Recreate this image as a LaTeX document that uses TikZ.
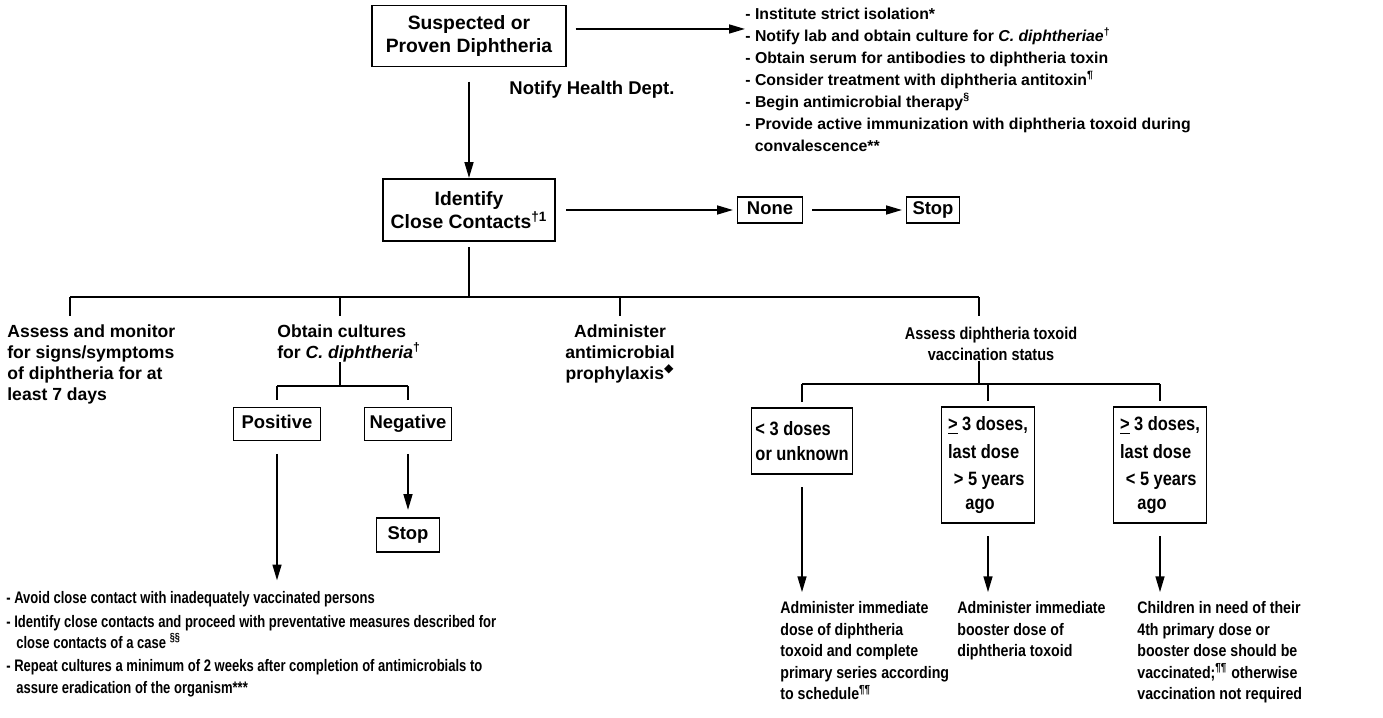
\documentclass[tikz,border=0pt]{standalone}
\usepackage{fontspec}
\setmainfont{Liberation Sans}
\newfontfamily\narrowfont[FakeStretch=0.85]{Liberation Sans}
\newfontfamily\narrowerfont[FakeStretch=0.78]{Liberation Sans}
\newfontfamily\symbolfont{DejaVu Sans}
\usetikzlibrary{arrows.meta,positioning,calc}

\begin{document}
\begin{tikzpicture}[
    x=0.02cm, y=-0.02cm,
    font=\bfseries,
    box/.style={rectangle, draw, line width=1.1pt, inner sep=2pt, align=center, fill=white},
    bigbox/.style={box, font=\bfseries\fontsize{11}{13.5}\selectfont},
    smallbox/.style={box, font=\bfseries\fontsize{10.5}{12}\selectfont, text height=8pt, text depth=2.4pt, minimum height=0.52cm},
    vbox/.style={box, anchor=north, align=left, font=\narrowfont\bfseries\fontsize{11}{15.5}\selectfont},
    txt/.style={inner sep=0pt, align=left, font=\bfseries\fontsize{10}{12}\selectfont},
    narrowtxt/.style={inner sep=0pt, align=left, anchor=north west, font=\narrowfont\bfseries\fontsize{9.5}{12.3}\selectfont},
    arrow/.style={-{Triangle[length=9pt,width=5pt]}, line width=1.1pt},
    line/.style={line width=1.1pt}
]
    \useasboundingbox (0,0) rectangle (1383,717);

    % --- 1. Case and contacts ---
    \node[bigbox, minimum width=3.88cm, minimum height=1.22cm] (susp) at (469,36) {Suspected or\\Proven Diphtheria};
    \node[txt, anchor=north west, font=\bfseries\fontsize{9}{12.5}\selectfont] (isol) at (745,8)
        {- Institute strict isolation*\\
         - Notify lab and obtain culture for \textit{C. diphtheriae}\textsuperscript{†}\\
         - Obtain serum for antibodies to diphtheria toxin\\
         - Consider treatment with diphtheria antitoxin\textsuperscript{¶}\\
         - Begin antimicrobial therapy\textsuperscript{§}\\
         - Provide active immunization with diphtheria toxoid during\\
         \hspace{0.6em}convalescence**};
    \node[font=\bfseries\fontsize{10.5}{12}\selectfont] (notify) at (592,90) {Notify Health Dept.};

    \node[bigbox, minimum width=3.44cm, minimum height=1.24cm] (ident) at (469,210) {Identify\\Close Contacts\textsuperscript{†1}};
    \node[smallbox, minimum width=1.3cm] (none) at (770,210) {None};
    \node[smallbox, minimum width=1.06cm] (stopA) at (933,210) {Stop};

    % --- 2. Contact branches ---
    \coordinate (busL) at (70,297);
    \coordinate (busR) at (979,297);
    \coordinate (dMon) at (70,316);
    \coordinate (dCul) at (340,316);
    \coordinate (dAdm) at (620,316);
    \coordinate (dVac) at (979,316);

    \node[txt, anchor=north west] (monitor) at (7,324) {Assess and monitor\\for signs/symptoms\\of diphtheria for at\\least 7 days};
    \node[txt, anchor=north west] (cultures) at (277,324) {Obtain cultures\\for \textit{C. diphtheria}\textsuperscript{†}};
    \node[txt, anchor=north, align=center] (admin) at (620,324) {Administer\\antimicrobial\\prophylaxis\textsuperscript{\symbolfont ◆}};
    \node[txt, anchor=north, align=center, font=\narrowfont\bfseries\fontsize{9.7}{12}\selectfont] (status) at (991,327) {Assess diphtheria toxoid\\vaccination status};

    % --- 3. Culture results ---
    \coordinate (cbus) at (340,386);
    \node[smallbox, minimum width=1.74cm, minimum height=0.66cm] (pos) at (277,424) {Positive};
    \node[smallbox, minimum width=1.74cm, minimum height=0.66cm] (neg) at (408,424) {Negative};
    \node[smallbox, minimum width=1.26cm, minimum height=0.68cm] (stopB) at (408,535) {Stop};
    \node[narrowtxt, font=\narrowerfont\bfseries\fontsize{9.5}{12}\selectfont] (avoid) at (6,591)
        {- Avoid close contact with inadequately vaccinated persons\\[1.5pt]
         - Identify close contacts and proceed with preventative measures described for\\
         \hspace{0.6em}close contacts of a case \textsuperscript{§§}\\[1.5pt]
         - Repeat cultures a minimum of 2 weeks after completion of antimicrobials to\\
         \hspace{0.6em}assure eradication of the organism***};

    % --- 4. Vaccination status ---
    \coordinate (vbus) at (979,384);
    \node[vbox, minimum width=2.02cm, minimum height=1.32cm, font=\narrowfont\bfseries\fontsize{11}{14.5}\selectfont] (v1) at (802,407) {< 3 doses\\or unknown};
    \node[vbox, minimum width=1.86cm, minimum height=2.32cm] (v2) at (988,406) {\underline{>} 3 doses,\\last dose\\\hspace{0.3em}> 5 years\\[-2pt]\hspace{0.9em}ago};
    \node[vbox, minimum width=1.86cm, minimum height=2.32cm] (v3) at (1160,406) {\underline{>} 3 doses,\\last dose\\\hspace{0.3em}< 5 years\\[-2pt]\hspace{0.9em}ago};

    \node[narrowtxt] (act1) at (780,601) {Administer immediate\\dose of diphtheria\\toxoid and complete\\primary series according\\to schedule\textsuperscript{¶¶}};
    \node[narrowtxt] (act2) at (957,601) {Administer immediate\\booster dose of\\diphtheria toxoid};
    \node[narrowtxt] (act3) at (1137,601) {Children in need of their\\4th primary dose or\\booster dose should be\\vaccinated;\textsuperscript{¶¶} otherwise\\vaccination not required};

    % --- 5. Connections ---
    \draw[arrow, shorten <=5pt] ([yshift=4pt]susp.east) -- ([yshift=4pt]susp.east -| isol.west);
    \draw[arrow, shorten <=8pt] (susp.south) -- (ident.north);
    \draw[arrow, shorten <=6pt, shorten >=2pt] (ident.east) -- (none.west);
    \draw[arrow, shorten <=5pt, shorten >=2pt] (none.east) -- (stopA.west);

    \draw[line, shorten <=3pt] (ident.south) -- (ident.south |- busL);
    \draw[line] (busL) -- (busR);
    \foreach \d in {dMon,dCul,dAdm,dVac}
        \draw[line] (\d |- busL) -- (\d);

    \draw[line] (cultures.south -| cbus) -- (cbus);
    \draw[line] (pos.north |- cbus) -- (neg.north |- cbus);
    \foreach \b in {pos,neg}
        \draw[line, shorten >=4pt] (\b.north |- cbus) -- (\b.north);
    \draw[arrow, shorten <=7pt, shorten >=6pt] (pos.south) -- (pos.south |- avoid.north);
    \draw[arrow, shorten <=7pt, shorten >=4pt] (neg.south) -- (stopB.north);

    \draw[line] (status.south -| vbus) -- (vbus);
    \draw[line] (v1.north |- vbus) -- (v3.north |- vbus);
    \foreach \v in {v1,v2,v3}
        \draw[line, shorten >=3pt] (\v.north |- vbus) -- (\v.north);
    \draw[arrow, shorten <=7pt, shorten >=5pt] (v1.south) -- (v1.south |- act1.north);
    \draw[arrow, shorten <=7pt, shorten >=5pt] (v2.south) -- (v2.south |- act2.north);
    \draw[arrow, shorten <=7pt, shorten >=5pt] (v3.south) -- (v3.south |- act3.north);

\end{tikzpicture}
\end{document}
